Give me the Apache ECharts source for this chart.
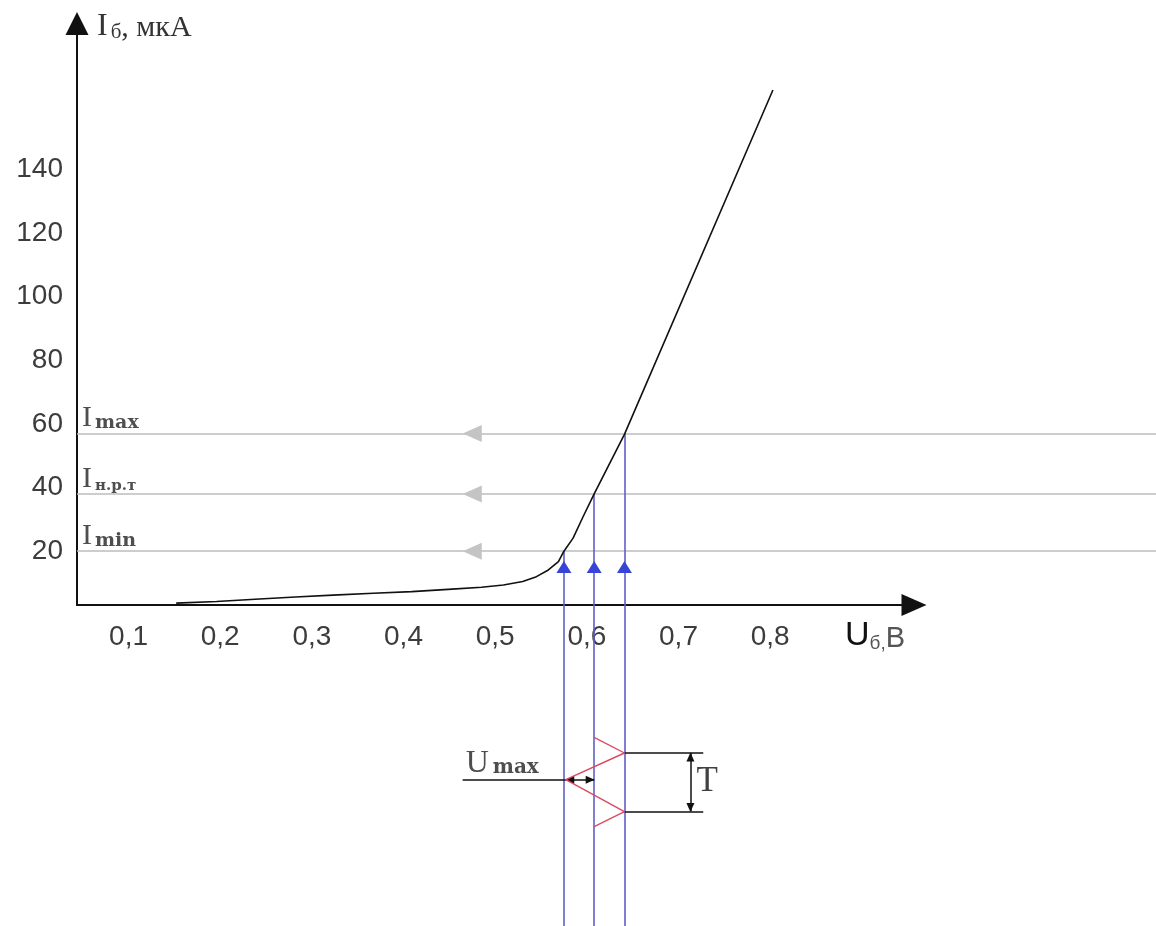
<!DOCTYPE html>
<html>
<head>
<meta charset="utf-8">
<script src="https://cdn.jsdelivr.net/npm/echarts@6/dist/echarts.min.js"></script>
<style>
    html, body { margin: 0; padding: 0; background: #fff; }
    #myEchartNode { width: 1156px; height: 926px; }
</style>
</head>
<body>
<div id="myEchartNode"></div>
<script>
// подписи осей
var uTicks = [0.1, 0.2, 0.3, 0.4, 0.5, 0.6, 0.7, 0.8];
var iTicks = [20, 40, 60, 80, 100, 120, 140];

// входная характеристика Iб(Uб)
var uCurve = [0.152, 0.196, 0.238, 0.282, 0.323, 0.367, 0.409, 0.453, 0.485, 0.509,
              0.530, 0.545, 0.558, 0.569, 0.575, 0.585, 0.596, 0.608, 0.641, 0.803];
var iCurve = [3.7, 4.2, 4.9, 5.6, 6.2, 6.8, 7.3, 8.1, 8.7, 9.4,
              10.5, 12.0, 14.1, 16.7, 20.0, 24.1, 30.9, 38.0, 56.7, 164.9];

// рабочие точки: Imin, Iн.р.т, Imax
var levelNames = ['min', 'н.р.т', 'max'];
var iLevels = [20, 38, 57];
var uLevels = [0.575, 0.608, 0.641];

// входной сигнал под осью (время идёт вниз, в тех же единицах)
var uSignal = [0.608, 0.641, 0.577, 0.641, 0.608];
var tSignal = [-38.5, -43.4, -51.8, -61.8, -66.5];

// пределы осей и вспомогательные построения
var uMin = 0.0438, uMax = 0.9569;
var iMin = 3.1, iMax = 185.8;
var iBottom = -98;        // синие проекции уходят до нижнего края
var uRight = 1.23;        // серые уровни уходят до правого края
var uLevelArrow = 0.475;
var iWorkArrow = 15;
var uUmaxText = 0.4645;
var uPeriodEnd = 0.727;
var uPeriodArrow = 0.713;

var serif = 'Liberation Serif';
var serifWide = 'DejaVu Serif';

// отрезок как серия lines, чтобы не обрезался по сетке
function seg(list, color, width) {
    return {
        type: 'lines',
        coordinateSystem: 'cartesian2d',
        clip: false,
        silent: true,
        symbol: 'none',
        lineStyle: { color: color, width: width, opacity: 1 },
        data: list.map(function (c) { return { coords: c }; })
    };
}

var series = [];

series.push(seg(iLevels.map(function (lvl) {
    return [[uMin, lvl], [uRight, lvl]];
}), '#bdbdbd', 1.5));

series.push(seg(uLevels.map(function (u, k) {
    return [[u, iLevels[k]], [u, iBottom]];
}), '#5f5fc8', 1.6));

// кривая
series.push({
    type: 'line',
    data: uCurve.map(function (u, k) { return [u, iCurve[k]]; }),
    symbol: 'none',
    clip: false,
    silent: true,
    lineStyle: { color: '#111', width: 1.6 }
});

// синусоида
series.push({
    type: 'line',
    data: uSignal.map(function (u, k) { return [u, tSignal[k]]; }),
    symbol: 'none',
    clip: false,
    silent: true,
    lineStyle: { color: '#d94a62', width: 1.4 }
});

// Umax и период T
series.push(seg([
    [[uUmaxText, tSignal[2]], [uSignal[2], tSignal[2]]],
    [[uSignal[2], tSignal[2]], [uLevels[1], tSignal[2]]],
    [[uSignal[1], tSignal[1]], [uPeriodEnd, tSignal[1]]],
    [[uSignal[3], tSignal[3]], [uPeriodEnd, tSignal[3]]],
    [[uPeriodArrow, tSignal[1]], [uPeriodArrow, tSignal[3]]]
], '#111', 1.5));

// стрелки
series.push({
    type: 'scatter',
    clip: false,
    silent: true,
    symbol: 'triangle',
    symbolSize: [17, 19],
    symbolRotate: 90,
    itemStyle: { color: '#c4c4c4', opacity: 1 },
    data: iLevels.map(function (lvl) { return [uLevelArrow, lvl]; })
});
series.push({
    type: 'scatter',
    clip: false,
    silent: true,
    symbol: 'triangle',
    symbolSize: [15, 12],
    itemStyle: { color: '#3844d6', opacity: 1 },
    data: uLevels.map(function (u) { return [u, iWorkArrow]; })
});
series.push({
    type: 'scatter',
    clip: false,
    silent: true,
    symbol: 'triangle',
    symbolSize: [8, 9],
    itemStyle: { color: '#111', opacity: 1 },
    data: [
        { value: [uLevels[1], tSignal[2]], symbolRotate: -90, symbolOffset: [-4, 0] },
        { value: [uSignal[2], tSignal[2]], symbolRotate: 90, symbolOffset: [4, 0] },
        { value: [uPeriodArrow, tSignal[1]], symbolRotate: 0, symbolOffset: [0, 4] },
        { value: [uPeriodArrow, tSignal[3]], symbolRotate: 180, symbolOffset: [0, -4] }
    ]
});

// подписи уровней
series.push({
    type: 'scatter',
    clip: false,
    silent: true,
    symbolSize: 0,
    data: iLevels.map(function (lvl, k) { return { value: [uMin, lvl], name: levelNames[k] }; }),
    label: {
        show: true,
        position: [5, 0],
        align: 'left',
        verticalAlign: 'bottom',
        formatter: function (p) {
            return '{i|I}{' + (p.dataIndex === 1 ? 'n' : 's') + '|' + p.name + '}';
        },
        rich: {
            i: { fontFamily: serif, fontSize: 30, color: '#222', verticalAlign: 'bottom' },
            s: { fontFamily: serifWide, fontSize: 19, fontWeight: 'bold', color: '#222', verticalAlign: 'bottom', padding: [0, 0, 1, 3] },
            n: { fontFamily: serifWide, fontSize: 15, fontWeight: 'bold', color: '#222', verticalAlign: 'bottom', padding: [0, 0, 0, 3] }
        }
    }
});

// подписи Umax и T
series.push({
    type: 'scatter',
    clip: false,
    silent: true,
    symbolSize: 0,
    data: [{ value: [uUmaxText, tSignal[2]] }],
    label: {
        show: true,
        position: [3, 0],
        align: 'left',
        verticalAlign: 'bottom',
        formatter: '{u|U}{s|max}',
        rich: {
            u: { fontFamily: serif, fontSize: 32, color: '#222', verticalAlign: 'bottom' },
            s: { fontFamily: serifWide, fontSize: 20, fontWeight: 'bold', color: '#222', verticalAlign: 'bottom', padding: [0, 0, 2, 4] }
        }
    }
});
series.push({
    type: 'scatter',
    clip: false,
    silent: true,
    symbolSize: 0,
    data: [{ value: [uPeriodArrow, (tSignal[1] + tSignal[3]) / 2] }],
    label: {
        show: true,
        position: 'right',
        distance: 6,
        formatter: 'T',
        fontFamily: serif,
        fontSize: 35,
        color: '#111'
    }
});

var myEchartObj = echarts.init(document.getElementById('myEchartNode'));
var option = {
    backgroundColor: '#fff',
    animation: false,
    grid: {
        left: 77,
        right: 242,
        top: 23.5,
        bottom: 321,
        containLabel: false,
        outerBoundsMode: 'none'
    },
    xAxis: {
        type: 'value',
        min: uMin,
        max: uMax,
        name: '{u|U}{s|б,}{b|В}',
        nameLocation: 'end',
        nameGap: -9,
        nameMoveOverlap: false,
        nameTextStyle: {
            align: 'right',
            verticalAlign: 'top',
            padding: [14, 0, 0, 0],
            rich: {
                u: { fontFamily: 'Liberation Sans', fontSize: 34, color: '#111', verticalAlign: 'bottom' },
                s: { fontFamily: 'Liberation Sans', fontSize: 19, color: '#555', verticalAlign: 'bottom' },
                b: { fontFamily: 'Liberation Sans', fontSize: 29, color: '#555', verticalAlign: 'bottom' }
            }
        },
        axisLine: {
            lineStyle: { color: '#111', width: 2 },
            symbol: ['none', 'triangle'],
            symbolSize: [22, 25]
        },
        axisTick: { show: false },
        splitLine: { show: false },
        axisLabel: {
            customValues: uTicks,
            margin: 18,
            fontFamily: 'Liberation Sans',
            fontSize: 28,
            color: '#3c3c3c',
            formatter: function (v) { return v.toFixed(1).replace('.', ','); }
        }
    },
    yAxis: {
        type: 'value',
        min: iMin,
        max: iMax,
        name: '{i|I}{s|б}{t|, мкА}',
        nameLocation: 'end',
        nameGap: -3.5,
        nameMoveOverlap: false,
        nameTextStyle: {
            align: 'left',
            verticalAlign: 'middle',
            padding: [0, 0, 0, 20],
            rich: {
                i: { fontFamily: serif, fontSize: 32, color: '#333', verticalAlign: 'bottom' },
                s: { fontFamily: serif, fontSize: 21, color: '#333', verticalAlign: 'bottom', padding: [0, 0, 0, 3] },
                t: { fontFamily: serif, fontSize: 30, color: '#333', verticalAlign: 'bottom' }
            }
        },
        axisLine: {
            lineStyle: { color: '#111', width: 2 },
            symbol: ['none', 'triangle'],
            symbolSize: [23, 23]
        },
        axisTick: { show: false },
        splitLine: { show: false },
        axisLabel: {
            customValues: iTicks,
            margin: 14,
            fontFamily: 'Liberation Sans',
            fontSize: 28,
            color: '#3c3c3c'
        }
    },
    series: series
};

myEchartObj.setOption(option);
</script>
</body>
</html>
